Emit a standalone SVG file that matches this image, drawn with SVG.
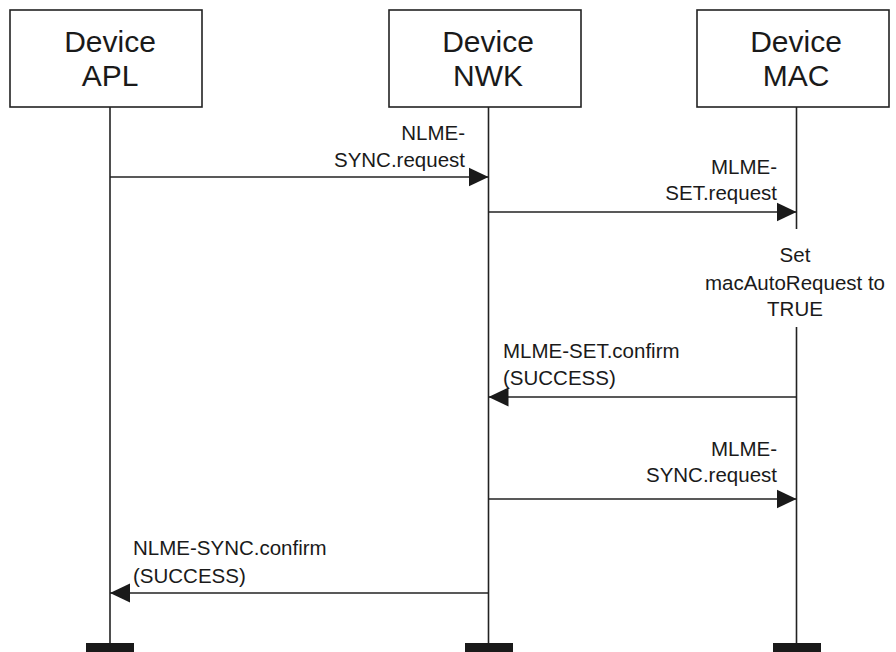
<svg xmlns="http://www.w3.org/2000/svg" width="896" height="652" viewBox="0 0 896 652">
<style>
.box{fill:#fff;stroke:#222;stroke-width:1.6}
.life{stroke:#222;stroke-width:1.6;fill:none}
.bar{fill:#1a1a1a}
.title{font-family:"Liberation Sans",Arial,sans-serif;font-size:30px;fill:#1a1a1a;text-anchor:middle}
.lbl{font-family:"Liberation Sans",Arial,sans-serif;font-size:20.5px;fill:#1a1a1a}
.r{text-anchor:end}
.m{text-anchor:middle}
.msg{stroke:#222;stroke-width:1.6;fill:none;marker-end:url(#ah)}
</style>
<defs>
<marker id="ah" markerWidth="20" markerHeight="20" refX="20" refY="10" orient="auto" markerUnits="userSpaceOnUse">
<path d="M0,0.5 L20,10 L0,19.5 z" fill="#1a1a1a"/>
</marker>
</defs>
<g id="apl">
<rect class="box" x="10" y="10" width="192" height="97"/>
<text class="title" x="110" y="52">Device</text>
<text class="title" x="110" y="86">APL</text>
<line class="life" x1="110" y1="107" x2="110" y2="645"/>
<rect class="bar" x="86" y="643" width="48" height="9"/>
</g>
<g id="nwk">
<rect class="box" x="389" y="10" width="192" height="97"/>
<text class="title" x="488" y="52">Device</text>
<text class="title" x="488" y="86">NWK</text>
<line class="life" x1="488.5" y1="107" x2="488.5" y2="645"/>
<rect class="bar" x="465" y="643" width="48" height="9"/>
</g>
<g id="mac">
<rect class="box" x="697" y="10" width="192" height="97"/>
<text class="title" x="796" y="52">Device</text>
<text class="title" x="796" y="86">MAC</text>
<line class="life" x1="796.5" y1="107" x2="796.5" y2="229"/>
<line class="life" x1="796.5" y1="327" x2="796.5" y2="645"/>
<rect class="bar" x="773" y="643" width="48" height="9"/>
</g>
<g id="mac-action">
<text class="lbl m" x="795" y="262">Set</text>
<text class="lbl m" x="795" y="290">macAutoRequest to</text>
<text class="lbl m" x="795" y="316">TRUE</text>
</g>
<g id="connectors">
<line class="msg" x1="110" y1="177" x2="488.5" y2="177"/>
<text class="lbl r" x="465" y="140">NLME-</text>
<text class="lbl r" x="465" y="167">SYNC.request</text>
<line class="msg" x1="488.5" y1="212" x2="796.5" y2="212"/>
<text class="lbl r" x="777" y="174">MLME-</text>
<text class="lbl r" x="777" y="200">SET.request</text>
<line class="msg" x1="796.5" y1="397" x2="488.5" y2="397"/>
<text class="lbl" x="503" y="358">MLME-SET.confirm</text>
<text class="lbl" x="503" y="385">(SUCCESS)</text>
<line class="msg" x1="488.5" y1="499" x2="796.5" y2="499"/>
<text class="lbl r" x="777" y="456">MLME-</text>
<text class="lbl r" x="777" y="482">SYNC.request</text>
<line class="msg" x1="488.5" y1="593" x2="110" y2="593"/>
<text class="lbl" x="133" y="555">NLME-SYNC.confirm</text>
<text class="lbl" x="133" y="583">(SUCCESS)</text>
</g>
</svg>
